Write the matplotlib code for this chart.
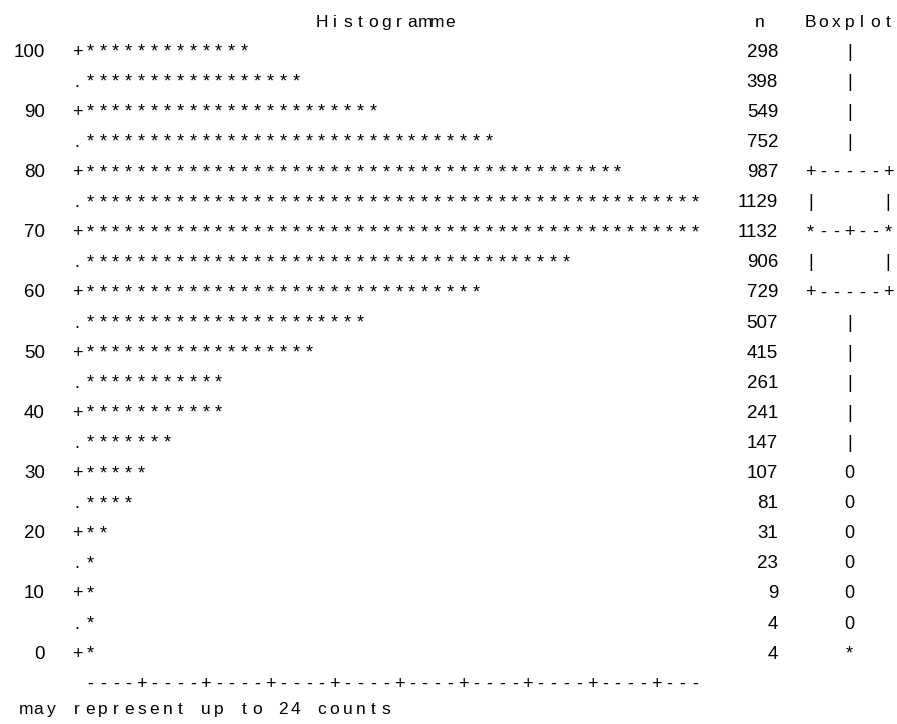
import math
import matplotlib
matplotlib.use('Agg')
from matplotlib import pyplot as plt

# SAS style text histogram: bins from 100 down to 0, one row every 5 units
bin_labels = ['100', '', '90', '', '80', '', '70', '', '60', '', '50', '',
              '40', '', '30', '', '20', '', '10', '', '0']
counts = [298, 398, 549, 752, 987, 1129, 1132, 906, 729, 507, 415, 261,
          241, 147, 107, 81, 31, 23, 9, 4, 4]
box_marks = ['|', '|', '|', '|', '+-----+', '|     |', '*--+--*', '|     |',
             '+-----+', '|', '|', '|', '|', '|', '0', '0', '0', '0', '0', '0', '*']
counts_per_star = 24
axis_line = '----+' * 9 + '---'
footer = 'may represent up to 24 counts'

fig = plt.figure(figsize=(8.97, 7.24), dpi=100)
ax = fig.add_axes([0, 0, 1, 1])
ax.axis('off')

# character grid: one unit per column / per printed line
pitch = 12.87
x0 = 90
row0 = 50
row_h = 30.1
ax.set_xlim(-x0 / pitch, (897 - x0) / pitch)
ax.set_ylim((724 - row0) / row_h, -row0 / row_h)


def put(col, row, s, size=13):
    # one glyph per grid column, like the printed listing
    for k, ch in enumerate(s):
        if ch == ' ':
            continue
        ax.text(col + k, row + 0.22, ch, ha='center', va='baseline',
                fontsize=size, family='Liberation Sans', color='black')


def put_right(col, row, s, size=13):
    ax.text(col, row + 0.22, s, ha='right', va='baseline',
            fontsize=size, family='Liberation Sans', color='black')


# header
put(18, -1, 'Histogramme', size=12.5)
put(52, -1, 'n', size=12.5)
put(56, -1, 'Boxplot', size=12.5)

for i in range(len(counts)):
    lab = bin_labels[i]
    if lab:
        put_right(-3.5, i, lab, size=13.5)
        put(-1, i, '+')
    else:
        put(-1, i, '.')
    stars = math.ceil(counts[i] / counts_per_star)
    put(0, i, '*' * stars)
    put_right(53.46, i, str(counts[i]), size=13.5)
    mark = box_marks[i]
    put(59 - (len(mark) - 1) // 2, i, mark)

put(0, 21.0, axis_line)
put(-5, 21.85, footer, size=12.5)

fig.savefig('out.png', dpi=100)
